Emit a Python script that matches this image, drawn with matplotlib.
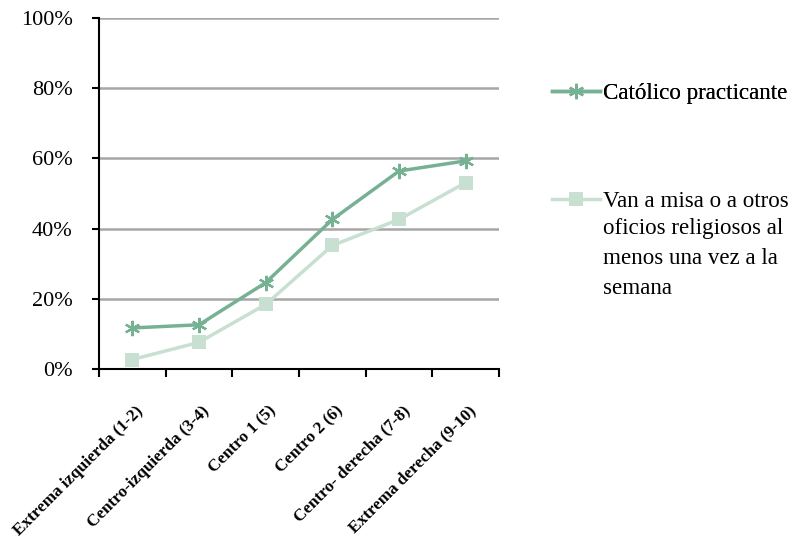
import matplotlib.pyplot as plt
import numpy as np

plt.rcParams['font.family'] = ['Liberation Serif', 'DejaVu Serif']

categorias = ["Extrema izquierda (1-2)", "Centro-izquierda (3-4)", "Centro 1 (5)",
              "Centro 2 (6)", "Centro- derecha (7-8)", "Extrema derecha (9-10)"]
catolico_practicante = [11.7, 12.6, 24.6, 42.6, 56.4, 59.3]
van_a_misa = [2.7, 7.6, 18.4, 35.2, 42.6, 53.1]

etiqueta_1 = "Católico practicante"
etiqueta_2 = ["Van a misa o a otros", "oficios religiosos al", "menos una vez a la", "semana"]

color_1 = "#77B194"
color_2 = "#C8E0D2"

fig = plt.figure(figsize=(7.94, 5.39), dpi=100)
ax = fig.add_axes([0.1247, 0.3154, 0.5038, 0.6512])

x = np.arange(len(categorias))
l1, = ax.plot(x, catolico_practicante, color=color_1, lw=2.5, marker=(6, 2, 0),
              markersize=11, markeredgewidth=1.6, label=etiqueta_1)
l2, = ax.plot(x, van_a_misa, color=color_2, lw=2.5, marker='s', markersize=10,
              markeredgewidth=0, label=etiqueta_2[0])

ax.set_xlim(-0.5, len(categorias) - 0.5)
ax.set_ylim(0, 100)
ax.set_yticks(np.arange(0, 101, 20))
ax.set_yticklabels([f"{v}%" for v in range(0, 101, 20)], fontsize=16)
ax.yaxis.grid(True, color='#A6A6A6', lw=1.8)
ax.set_axisbelow(True)

# ticks at the category boundaries, labels under the category centres
ax.set_xticks(np.arange(-0.5, len(categorias), 1.0))
ax.set_xticklabels([])
ax.tick_params(axis='x', length=6, width=1.5, direction='out')
ax.tick_params(axis='y', length=5, width=1.5, direction='out', pad=14)
for i, cat in enumerate(categorias):
    ax.annotate(cat, xy=(i, 0), xycoords=('data', 'axes fraction'),
                xytext=(6, -28.5), textcoords='offset points',
                rotation=45, ha='right', va='center', rotation_mode='anchor',
                fontsize=12.3, fontweight='bold')

for s in ['top', 'right']:
    ax.spines[s].set_visible(False)
for s in ['left', 'bottom']:
    ax.spines[s].set_linewidth(1.5)

leg_kw = dict(frameon=False, fontsize=16.6, handlelength=2.1, handletextpad=0.12,
              borderpad=0, borderaxespad=0)
leg1 = fig.legend(handles=[l1], loc='center left', bbox_to_anchor=(552 / 794, 1 - 93 / 539), **leg_kw)
fig.add_artist(leg1)
fig.legend(handles=[l2], loc='center left', bbox_to_anchor=(552 / 794, 1 - 201 / 539), **leg_kw)
fig.text(603 / 794, 1 - 218 / 539, "\n".join(etiqueta_2[1:]), fontsize=16.6,
         va='top', ha='left', linespacing=1.57)

fig.savefig("out.png", dpi=100)
